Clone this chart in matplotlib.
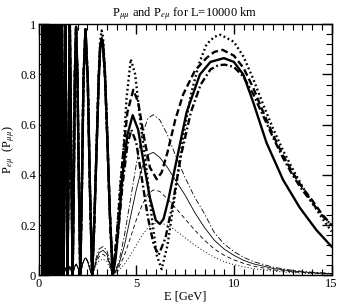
import matplotlib
matplotlib.use("Agg")
import matplotlib.pyplot as plt
from matplotlib.ticker import MultipleLocator, FormatStrFormatter

plt.rcParams['font.family'] = ['Liberation Serif', 'DejaVu Serif']
plt.rcParams['mathtext.fontset'] = 'stix'
plt.rcParams['lines.scale_dashes'] = False

# shared fast oscillations of P_mumu at low energy
e_low = [0.200, 0.202, 0.205, 0.207, 0.210, 0.212, 0.215, 0.217, 0.220, 0.223,
         0.226, 0.229, 0.232, 0.235, 0.238, 0.241, 0.245, 0.248, 0.252, 0.255,
         0.259, 0.263, 0.267, 0.271, 0.275, 0.279, 0.283, 0.287, 0.292, 0.296,
         0.301, 0.305, 0.310, 0.315,
         0.32, 0.326, 0.331, 0.337, 0.343, 0.349, 0.356, 0.363, 0.370, 0.377,
         0.384, 0.392, 0.400, 0.409, 0.418, 0.427, 0.437, 0.447, 0.458, 0.469,
         0.481, 0.493, 0.506, 0.519, 0.534, 0.549, 0.565, 0.582, 0.601, 0.620,
         0.641, 0.663, 0.686, 0.712, 0.739, 0.769, 0.801, 0.836, 0.874, 0.915,
         0.961, 1.012, 1.068, 1.131, 1.201, 1.281, 1.32, 1.373, 1.42, 1.478,
         1.53, 1.565, 1.602, 1.64, 1.69, 1.747, 1.81, 1.86, 1.922, 1.99,
         2.06, 2.136, 2.22, 2.3, 2.403, 2.52, 2.63]
p_low = [1, 0, 1, 0, 1, 0, 1, 0, 1, 0,
         1, 0, 1, 0, 1, 0, 1, 0, 1, 0,
         1, 0, 1, 0, 1, 0, 1, 0, 1, 0,
         1, 0, 1, 0,
         1, 0, 1, 0, 1, 0, 1, 0, 1, 0,
         1, 0, 1, 0, 1, 0, 1, 0, 1, 0,
         1, 0, 1, 0, 1, 0, 1, 0, 1, 0,
         1, 0, 1, 0, 1, 0, 1, 0, 1, 0,
         1, 0, 1, 0, 1, 0, 0.5, 1, 0.5, 0,
         0.35, 0.75, 1, 0.75, 0.35, 0, 0.4, 0.8, 0.99, 0.8,
         0.4, 0, 0.35, 0.78, 0.98, 0.78, 0.35]

# P_mumu, thick curves
e_mm_solid = [2.746, 2.85, 2.97, 3.08, 3.15, 3.23, 3.3, 3.4, 3.52, 3.65, 3.8, 3.95, 4.1,
              4.3, 4.55, 4.82, 5.1, 5.4, 5.7, 6.0, 6.21, 6.4, 6.64, 7.07, 7.58, 8.26,
              8.8, 9.49, 10.0, 10.48, 11.0, 11.67, 12.52, 13.37, 14.23, 15.0]
p_mm_solid = [0, 0.2, 0.5, 0.78, 0.9, 0.945, 0.92, 0.8, 0.55, 0.25, 0.0, 0.07, 0.2,
              0.4, 0.56, 0.638, 0.58, 0.44, 0.31, 0.22, 0.205, 0.225, 0.3, 0.46, 0.65, 0.8,
              0.85, 0.865, 0.85, 0.8, 0.687, 0.528, 0.38, 0.27, 0.18, 0.115]

e_mm_dashed = [2.746, 2.85, 2.97, 3.08, 3.15, 3.23, 3.3, 3.4, 3.52, 3.65, 3.8, 4.05, 4.3,
               4.55, 4.85, 5.1, 5.4, 5.7, 6.05, 6.3, 6.6, 7.0, 7.4, 8.0, 8.6, 9.0, 9.42,
               10.0, 10.5, 11.0, 11.5, 12.0, 12.5, 13.0, 13.5, 14.0, 14.5, 15.0]
p_mm_dashed = [0, 0.2, 0.5, 0.78, 0.9, 0.945, 0.92, 0.8, 0.55, 0.25, 0, 0.2, 0.46,
               0.65, 0.739, 0.69, 0.55, 0.43, 0.383, 0.41, 0.49, 0.62, 0.72, 0.815, 0.866, 0.89, 0.898,
               0.875, 0.825, 0.745, 0.65, 0.56, 0.48, 0.41, 0.35, 0.3, 0.245, 0.2]

e_mm_dotted = [2.746, 2.85, 2.97, 3.08, 3.15, 3.23, 3.3, 3.4, 3.52, 3.65, 3.8, 4.0, 4.2,
               4.34, 4.5, 4.72, 4.95, 5.2, 5.5, 5.8, 6.05, 6.3, 6.6, 7.0, 7.4, 7.8, 8.2,
               8.6, 9.0, 9.32, 10.0, 10.5, 11.0, 11.5, 12.0, 12.5, 13.0, 13.5, 14.0, 14.5, 15.0]
p_mm_dotted = [0, 0.2, 0.52, 0.8, 0.93, 0.975, 0.95, 0.82, 0.56, 0.25, 0, 0.15, 0.38,
               0.49, 0.7, 0.861, 0.8, 0.62, 0.44, 0.23, 0.08, 0.025, 0.12, 0.33, 0.55, 0.72, 0.84,
               0.92, 0.95, 0.958, 0.93, 0.87, 0.78, 0.68, 0.585, 0.5, 0.425, 0.355, 0.29, 0.23, 0.175]

e_mm_dashdot = [2.746, 2.85, 2.97, 3.08, 3.15, 3.23, 3.3, 3.4, 3.52, 3.65, 3.8, 4.05, 4.3,
                4.55, 4.75, 5.0, 5.3, 5.6, 5.9, 6.15, 6.5, 6.9, 7.3, 7.8, 8.3, 8.8, 9.2,
                9.54, 10.0, 10.5, 11.0, 11.5, 12.0, 12.5, 13.0, 13.5, 14.0, 14.5, 15.0]
p_mm_dashdot = [0, 0.2, 0.5, 0.78, 0.9, 0.94, 0.91, 0.79, 0.54, 0.24, 0, 0.15, 0.36,
                0.52, 0.58, 0.53, 0.38, 0.23, 0.12, 0.082, 0.15, 0.3, 0.48, 0.65, 0.76, 0.82, 0.837,
                0.839, 0.83, 0.79, 0.72, 0.635, 0.55, 0.47, 0.4, 0.34, 0.29, 0.24, 0.2]

# P_emu, thin curves
e_thin_low = [0.915, 0.96, 1.012, 1.07, 1.131, 1.2, 1.281, 1.37, 1.478, 1.6, 1.747,
              1.85, 1.93, 2.02, 2.136, 2.25, 2.35, 2.42, 2.52, 2.65]
p_thin_low = [0, 0.02, 0, 0.02, 0, 0.025, 0, 0.03, 0, 0.035, 0,
              0.035, 0.045, 0.03, 0, 0.045, 0.065, 0.07, 0.055, 0.02]

e_em = [2.746, 2.95, 3.1, 3.3, 3.5, 3.65, 3.8, 4.1, 4.4, 4.7, 5.0, 5.3, 5.6, 5.87,
        6.2, 6.6, 7.0, 7.5, 8.0, 8.5, 9.0, 9.5, 10.0, 10.5, 11.0, 12.0, 13.0, 14.0, 15.0]
p_em_dashdot = [0, 0.07, 0.105, 0.115, 0.1, 0.055, 0, 0.05, 0.16, 0.3, 0.44, 0.56, 0.625, 0.64,
                0.62, 0.56, 0.48, 0.39, 0.31, 0.245, 0.17, 0.125, 0.095, 0.072, 0.055, 0.033, 0.02, 0.013, 0.008]
p_em_solid = [0, 0.06, 0.09, 0.1, 0.085, 0.045, 0, 0.04, 0.12, 0.23, 0.34, 0.43, 0.48, 0.49,
              0.47, 0.43, 0.38, 0.32, 0.25, 0.19, 0.14, 0.105, 0.08, 0.06, 0.046, 0.028, 0.017, 0.011, 0.007]
p_em_dashed = [0, 0.05, 0.075, 0.085, 0.072, 0.04, 0, 0.03, 0.08, 0.15, 0.22, 0.28, 0.325, 0.34,
               0.335, 0.305, 0.27, 0.225, 0.18, 0.14, 0.105, 0.08, 0.062, 0.048, 0.037, 0.022, 0.014, 0.009, 0.006]
p_em_dotted = [0, 0.04, 0.058, 0.065, 0.055, 0.03, 0, 0.02, 0.045, 0.08, 0.12, 0.16, 0.19, 0.205,
               0.21, 0.2, 0.18, 0.15, 0.12, 0.095, 0.072, 0.055, 0.043, 0.034, 0.027, 0.017, 0.011, 0.007, 0.005]

fig = plt.figure(figsize=(3.38, 3.03), dpi=100)
ax = fig.add_axes([0.114, 0.091, 0.867, 0.829])

thick = 1.7
thin = 0.6
styles = {
    'solid': None,
    'dashed': (5, 2.5),
    'dotted': (1.3, 2.0),
    'dashdot': (5, 2, 1.3, 2),
}
thin_styles = {
    'solid': None,
    'dashed': (3, 2),
    'dotted': (0.8, 1.5),
    'dashdot': (4, 1.5, 1, 1.5),
}

thick_data = [
    ('solid', e_mm_solid, p_mm_solid),
    ('dashed', e_mm_dashed, p_mm_dashed),
    ('dotted', e_mm_dotted, p_mm_dotted),
    ('dashdot', e_mm_dashdot, p_mm_dashdot),
]
for name, e, p in thick_data:
    line, = ax.plot(e_low + e, p_low + p, color='black', linewidth=thick)
    if styles[name] is not None:
        line.set_dashes(styles[name])

thin_data = [
    ('dashdot', p_em_dashdot),
    ('solid', p_em_solid),
    ('dashed', p_em_dashed),
    ('dotted', p_em_dotted),
]
for name, p in thin_data:
    line, = ax.plot(e_thin_low + e_em, p_thin_low + p, color='black', linewidth=thin)
    if thin_styles[name] is not None:
        line.set_dashes(thin_styles[name])

ax.set_xlim(0, 15)
ax.set_ylim(0, 1)
ax.xaxis.set_major_locator(MultipleLocator(5))
ax.xaxis.set_minor_locator(MultipleLocator(0.5))
ax.yaxis.set_major_locator(MultipleLocator(0.2))
ax.yaxis.set_minor_locator(MultipleLocator(0.04))
ax.yaxis.set_major_formatter(FormatStrFormatter('%g'))
ax.xaxis.set_major_formatter(FormatStrFormatter('%g'))
ax.tick_params(which='both', direction='in', top=True, right=True, labelsize=9, pad=2)
ax.tick_params(which='major', length=7, width=1)
ax.tick_params(which='minor', length=4.5, width=0.8)
for s in ax.spines.values():
    s.set_linewidth(1)

ax.set_title(r'P$_{\mu\mu}$ and P$_{e\mu}$ for L=10000 km', fontsize=9, pad=6)
ax.set_xlabel('E [GeV]', fontsize=9, labelpad=0)
ax.set_ylabel(r'P$_{e\mu}$  (P$_{\mu\mu}$)', fontsize=9)
ax.yaxis.set_label_coords(-0.075, 0.5)

fig.savefig('out.png', dpi=100)
